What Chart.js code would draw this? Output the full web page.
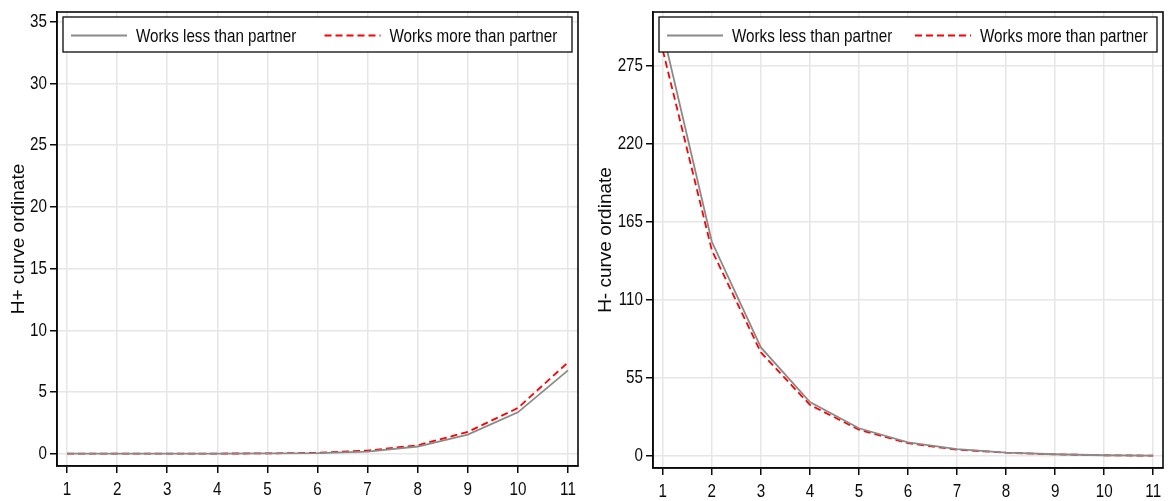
<!DOCTYPE html>
<html>
<head>
<meta charset="utf-8">
<script src="https://cdn.jsdelivr.net/npm/chart.js@4.4.1/dist/chart.umd.min.js"></script>
<style>
  html, body { margin: 0; padding: 0; background: #fff; }
  #wrap { position: relative; width: 1170px; height: 501px; overflow: hidden; }
  .panel { position: absolute; top: 0; width: 585px; height: 501px; }
</style>
</head>
<body>
<div id="wrap">
  <div class="panel" style="left:0"><canvas id="hPlusChart" width="585" height="501"></canvas></div>
  <div class="panel" style="left:585px"><canvas id="hMinusChart" width="585" height="501"></canvas></div>
</div>
<script>
/* H+ / H- curve ordinates by relative working time */
const xValues = [1, 2, 3, 4, 5, 6, 7, 8, 9, 10, 11];
const seriesLabels = ['Works less than partner', 'Works more than partner'];

const hPlusLess = [0, 0, 0, 0.01, 0.02, 0.05, 0.17, 0.58, 1.55, 3.35, 6.75];
const hPlusMore = [0, 0, 0, 0.01, 0.02, 0.07, 0.25, 0.68, 1.76, 3.7, 7.4];
const hPlusTicks = [0, 5, 10, 15, 20, 25, 30, 35];

const hMinusLess = [299, 151, 76.5, 38, 19.5, 9.5, 4.8, 2.4, 1.2, 0.5, 0.2];
const hMinusMore = [286, 145, 73, 36, 18.5, 9, 4.4, 2.3, 1.1, 0.5, 0.2];
const hMinusTicks = [0, 55, 110, 165, 220, 275];

const FONT = '"Liberation Sans", Arial, sans-serif';
const TEXT_FONT = '19px ' + FONT;
const SQUEEZE = 0.8; // condensed look of the text faces
const INK = '#0a0a0a';
const GRID = '#e6e6e6';
const LESS_COLOR = '#8a8a8a';
const MORE_COLOR = '#ff0000';

function condensedText(ctx, text, x, y, align) {
  ctx.save();
  ctx.translate(x, y);
  ctx.scale(SQUEEZE, 1);
  ctx.textAlign = align;
  ctx.fillText(text, 0, 0);
  ctx.restore();
}

// tick labels, legend box inside the plot region, then the plot frame
const framePlugin = {
  id: 'frameLegend',
  afterDatasetsDraw(chart) {
    const { ctx, chartArea: a, scales } = chart;

    ctx.save();
    ctx.font = TEXT_FONT;
    ctx.fillStyle = INK;
    ctx.textBaseline = 'middle';
    scales.x.ticks.forEach(t => {
      condensedText(ctx, String(t.value), scales.x.getPixelForValue(t.value), a.bottom + 24, 'center');
    });
    scales.y.ticks.forEach(t => {
      condensedText(ctx, String(t.value), a.left - 10, scales.y.getPixelForValue(t.value), 'right');
    });

    const bx = a.left + 6;
    const bw = a.right - a.left - 12;
    const by = a.top + 5;
    const bh = 35;
    ctx.fillStyle = '#fff';
    ctx.fillRect(bx, by, bw, bh);
    ctx.strokeStyle = INK;
    ctx.lineWidth = 1.3;
    ctx.strokeRect(bx, by, bw, bh);

    const cy = by + bh / 2 + 1;
    const starts = [bx + 8, bx + bw / 2 + 7];
    chart.data.datasets.forEach((ds, i) => {
      const sx = starts[i];
      ctx.beginPath();
      ctx.setLineDash(ds.borderDash || []);
      ctx.strokeStyle = ds.borderColor;
      ctx.lineWidth = ds.borderWidth;
      ctx.moveTo(sx, cy);
      ctx.lineTo(sx + 56, cy);
      ctx.stroke();
      ctx.setLineDash([]);
      ctx.fillStyle = INK;
      condensedText(ctx, ds.label, sx + 65, cy + 1, 'left');
    });

    ctx.strokeStyle = INK;
    ctx.lineWidth = 1.6;
    ctx.strokeRect(a.left, a.top, a.right - a.left, a.bottom - a.top);
    ctx.restore();
  },
};

function makePanel(canvasId, yTitle, less, more, yTicks, yMin, yMax, yWidth, xHeight, titlePad) {
  const ctx = document.getElementById(canvasId).getContext('2d');
  const toPoints = vals => xValues.map((x, i) => ({ x, y: vals[i] }));

  return new Chart(ctx, {
    type: 'line',
    data: {
      datasets: [
        {
          label: seriesLabels[0],
          data: toPoints(less),
          borderColor: LESS_COLOR,
          borderWidth: 1.8,
          pointRadius: 0,
          tension: 0,
        },
        {
          label: seriesLabels[1],
          data: toPoints(more),
          borderColor: MORE_COLOR,
          borderWidth: 1.8,
          borderDash: [7, 4],
          pointRadius: 0,
          tension: 0,
        },
      ],
    },
    options: {
      responsive: false,
      animation: false,
      devicePixelRatio: 1,
      layout: { padding: { top: 12, right: 7, left: 0, bottom: 0 } },
      plugins: { legend: { display: false }, tooltip: { enabled: false } },
      scales: {
        x: {
          type: 'linear',
          min: 0.8,
          max: 11.2,
          afterBuildTicks: s => { s.ticks = xValues.map(v => ({ value: v })); },
          afterFit: s => { s.height = xHeight; },
          grid: { color: GRID, lineWidth: 1.5, tickColor: INK, tickLength: 7 },
          border: { display: true, color: INK, width: 1.6 },
          ticks: { display: false },
        },
        y: {
          type: 'linear',
          min: yMin,
          max: yMax,
          afterBuildTicks: s => { s.ticks = yTicks.map(v => ({ value: v })); },
          afterFit: s => { s.width = yWidth; },
          grid: { color: GRID, lineWidth: 1.5, tickColor: INK, tickLength: 7 },
          border: { display: true, color: INK, width: 1.6 },
          ticks: { display: false },
          title: {
            display: true,
            text: yTitle,
            font: { family: FONT, size: 19 },
            color: INK,
            padding: { top: titlePad, bottom: 0 },
          },
        },
      },
    },
    plugins: [framePlugin],
  });
}

makePanel('hPlusChart', 'H+ curve ordinate', hPlusLess, hPlusMore, hPlusTicks, -1, 35.8, 57, 35, 7);
makePanel('hMinusChart', 'H- curve ordinate', hMinusLess, hMinusMore, hMinusTicks, -8.5, 313, 68, 33, 9);
</script>
</body>
</html>
